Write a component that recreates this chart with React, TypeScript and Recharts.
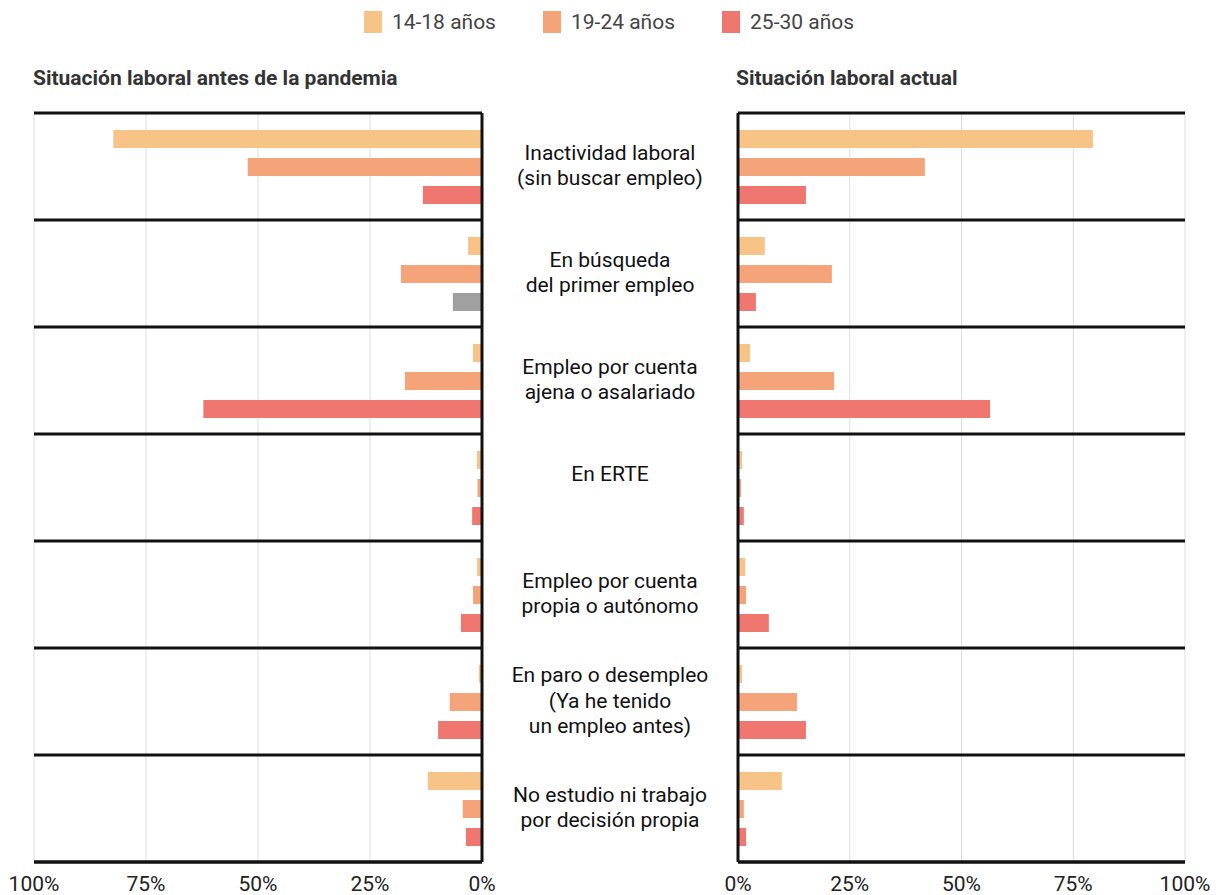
import React from 'react';
import {
  Bar,
  BarChart,
  CartesianGrid,
  Cell,
  ReferenceLine,
  XAxis,
  YAxis,
} from 'recharts';

const categories = [
  'Inactividad laboral\n(sin buscar empleo)',
  'En búsqueda\ndel primer empleo',
  'Empleo por cuenta\najena o asalariado',
  'En ERTE',
  'Empleo por cuenta\npropia o autónomo',
  'En paro o desempleo\n(Ya he tenido\nun empleo antes)',
  'No estudio ni trabajo\npor decisión propia',
];

const seriesNames = ['14-18 años', '19-24 años', '25-30 años'];
const seriesColors = ['#f8c386', '#f4a478', '#f07670'];
const highlightColor = '#a0a0a0';

// antes de la pandemia (%)
const before1418 = [82.3, 3.1, 2.0, 1.1, 1.1, 0.7, 12.1];
const before1924 = [52.3, 18.1, 17.2, 1.0, 2.0, 7.2, 4.3];
const before2530 = [13.2, 6.5, 62.2, 2.2, 4.7, 9.8, 3.6];

// actual (%)
const now1418 = [79.4, 6.0, 2.7, 0.9, 1.6, 0.9, 9.8];
const now1924 = [41.8, 21.0, 21.5, 0.7, 1.8, 13.2, 1.3];
const now2530 = [15.2, 4.0, 56.4, 1.3, 6.9, 15.2, 1.8];

const ticks = [0, 25, 50, 75, 100];
const greyIndex = 1; // barra gris en "antes", 25-30

const beforeData = categories.map((cat, i) => ({
  cat,
  a: before1418[i],
  b: before1924[i],
  c: before2530[i],
}));
const nowData = categories.map((cat, i) => ({
  cat,
  a: now1418[i],
  b: now1924[i],
  c: now2530[i],
}));

const FONT = 'Roboto, "Noto Sans", sans-serif';

const bandLines = ({ offset }: any) => {
  const out: number[] = [];
  for (let i = 0; i <= categories.length; i++) {
    out.push(offset.top + (offset.height * i) / categories.length);
  }
  return out;
};

function CategoryTick({ y, payload }: any) {
  const lines = String(payload.value).split('\n');
  const lh = 25.5;
  // single-line labels sit like two-line ones
  const n = Math.max(lines.length, 2);
  return (
    <text
      x={128}
      y={y}
      textAnchor="middle"
      fill="#111"
      fontSize={21}
      fontFamily={FONT}
    >
      {lines.map((l, i) => (
        <tspan key={i} x={128} dy={i === 0 ? -((n - 1) / 2) * lh + 6 : lh}>
          {l}
        </tspan>
      ))}
    </text>
  );
}

const tickStyle = { fill: '#222', fontSize: 21, fontFamily: FONT };

export default function App() {
  return (
    <div
      style={{
        position: 'absolute',
        left: 0,
        top: 0,
        width: 1218,
        height: 895,
        background: '#fff',
        fontFamily: FONT,
        overflow: 'hidden',
      }}
    >
      <div
        style={{
          position: 'absolute',
          top: 10,
          left: 0,
          width: 1218,
          display: 'flex',
          justifyContent: 'center',
          gap: 47,
        }}
      >
        {seriesNames.map((n, i) => (
          <div key={n} style={{ display: 'flex', alignItems: 'center' }}>
            <span
              style={{
                display: 'inline-block',
                width: 18,
                height: 22,
                background: seriesColors[i],
                marginRight: 10,
              }}
            />
            <span style={{ fontSize: 21, color: '#444' }}>{n}</span>
          </div>
        ))}
      </div>

      <div
        style={{
          position: 'absolute',
          left: 33,
          top: 66,
          fontSize: 21,
          fontWeight: 700,
          color: '#333',
        }}
      >
        Situación laboral antes de la pandemia
      </div>
      <div
        style={{
          position: 'absolute',
          left: 736,
          top: 66,
          fontSize: 21,
          fontWeight: 700,
          color: '#333',
        }}
      >
        Situación laboral actual
      </div>

      <div style={{ position: 'absolute', left: 0, top: 0 }}>
        <BarChart
          width={500}
          height={895}
          data={beforeData}
          layout="vertical"
          margin={{ top: 113, right: 18, left: 34, bottom: 0 }}
          barSize={18}
          barGap={10}
        >
          <CartesianGrid horizontal={false} stroke="#dddddd" />
          <CartesianGrid
            vertical={false}
            stroke="#111"
            strokeWidth={3}
            horizontalCoordinatesGenerator={bandLines}
          />
          <XAxis
            type="number"
            domain={[0, 100]}
            ticks={ticks}
            reversed
            tickFormatter={(v) => `${v}%`}
            tick={tickStyle}
            tickLine={false}
            tickMargin={8}
            axisLine={{ stroke: '#111', strokeWidth: 3 }}
            height={33}
            interval={0}
          />
          <YAxis type="category" dataKey="cat" hide />
          <Bar dataKey="a" fill={seriesColors[0]} isAnimationActive={false} />
          <Bar dataKey="b" fill={seriesColors[1]} isAnimationActive={false} />
          <Bar dataKey="c" fill={seriesColors[2]} isAnimationActive={false}>
            {beforeData.map((_, i) => (
              <Cell
                key={i}
                fill={i === greyIndex ? highlightColor : seriesColors[2]}
              />
            ))}
          </Bar>
          <ReferenceLine x={0} stroke="#111" strokeWidth={3} />
        </BarChart>
      </div>

      <div style={{ position: 'absolute', left: 482, top: 0 }}>
        <BarChart
          width={736}
          height={895}
          data={nowData}
          layout="vertical"
          margin={{ top: 113, right: 33, left: 0, bottom: 0 }}
          barSize={18}
          barGap={10}
        >
          <CartesianGrid horizontal={false} stroke="#dddddd" />
          <CartesianGrid
            vertical={false}
            stroke="#111"
            strokeWidth={3}
            horizontalCoordinatesGenerator={bandLines}
          />
          <XAxis
            type="number"
            domain={[0, 100]}
            ticks={ticks}
            tickFormatter={(v) => `${v}%`}
            tick={tickStyle}
            tickLine={false}
            tickMargin={8}
            axisLine={{ stroke: '#111', strokeWidth: 3 }}
            height={33}
            interval={0}
          />
          <YAxis
            type="category"
            dataKey="cat"
            width={256}
            tickLine={false}
            axisLine={{ stroke: '#111', strokeWidth: 3 }}
            tick={<CategoryTick />}
            interval={0}
          />
          <Bar dataKey="a" fill={seriesColors[0]} isAnimationActive={false} />
          <Bar dataKey="b" fill={seriesColors[1]} isAnimationActive={false} />
          <Bar dataKey="c" fill={seriesColors[2]} isAnimationActive={false} />
        </BarChart>
      </div>
    </div>
  );
}
